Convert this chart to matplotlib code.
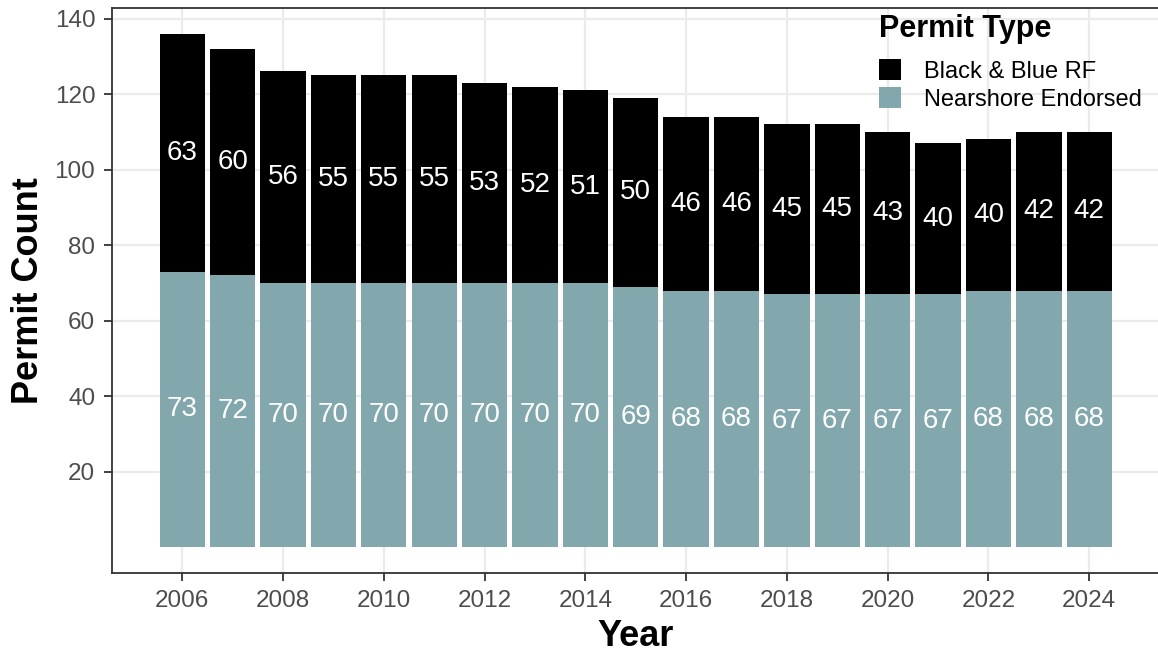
import matplotlib
matplotlib.use("Agg")
import matplotlib.pyplot as plt
from matplotlib.patches import Patch

plt.rcParams['font.family'] = ['Liberation Sans', 'DejaVu Sans']

years = [2006, 2007, 2008, 2009, 2010, 2011, 2012, 2013, 2014, 2015,
         2016, 2017, 2018, 2019, 2020, 2021, 2022, 2023, 2024]
nearshore = [73, 72, 70, 70, 70, 70, 70, 70, 70, 69,
             68, 68, 67, 67, 67, 67, 68, 68, 68]
black_blue = [63, 60, 56, 55, 55, 55, 53, 52, 51, 50,
              46, 46, 45, 45, 43, 40, 40, 42, 42]
series_names = ["Black & Blue RF", "Nearshore Endorsed"]
colors = {"Black & Blue RF": "#000000", "Nearshore Endorsed": "#82A8AD"}
x_ticks = list(range(2006, 2025, 2))
y_ticks = [20, 40, 60, 80, 100, 120, 140]

W, H = 1158, 653
fig = plt.figure(figsize=(W / 100, H / 100), dpi=100)
ax = fig.add_axes([112 / W, (H - 573) / H, (1159.5 - 112) / W, (573 - 8) / H])

b1 = ax.bar(years, nearshore, width=0.9, color=colors["Nearshore Endorsed"], zorder=2)
b2 = ax.bar(years, black_blue, width=0.9, bottom=nearshore, color=colors["Black & Blue RF"], zorder=2)
ax.bar_label(b1, label_type='center', color='white', fontsize=20, zorder=3)
ax.bar_label(b2, label_type='center', color='white', fontsize=20, zorder=3)

ax.set_xlim(2004.605, 2025.395)
ax.set_ylim(-6.8, 142.8)
ax.set_xticks(x_ticks)
ax.set_yticks(y_ticks)
ax.grid(True, color='#EBEBEB', linewidth=1.6, zorder=0)
ax.set_axisbelow(True)

for s in ['left', 'bottom', 'top', 'right']:
    ax.spines[s].set_color('#333333')
    ax.spines[s].set_linewidth(1.3)
ax.tick_params(axis='both', colors='#333333', length=6, width=1.3,
               labelsize=17.5, labelcolor='#4D4D4D', pad=6)

ax.set_xlabel("Year", fontsize=26, fontweight='bold', labelpad=5)
ax.set_ylabel("Permit Count", fontsize=26, fontweight='bold', labelpad=6)

handles = [Patch(facecolor=colors[n], edgecolor='none') for n in series_names]
leg = ax.legend(handles, series_names, title="Permit Type", loc='upper left',
                bbox_to_anchor=(879 / W, 1 - 14 / H), bbox_transform=fig.transFigure,
                frameon=False, fontsize=17, title_fontproperties={'weight': 'bold', 'size': 22},
                handlelength=0.95, handleheight=0.95, handletextpad=0.95,
                labelspacing=0.2, borderpad=0, borderaxespad=0)
leg._legend_box.align = "left"
leg._legend_box.sep = 11

fig.savefig("out.png", dpi=100, facecolor='white')
